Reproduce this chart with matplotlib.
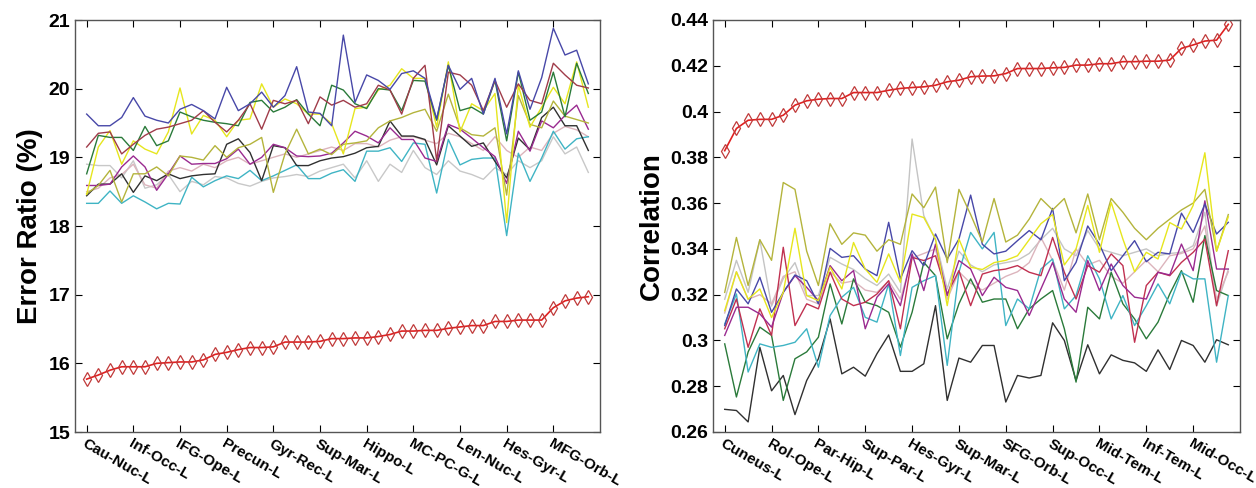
import matplotlib
matplotlib.use("Agg")
import matplotlib.pyplot as plt
import numpy as np

# x positions (1..44) and tick labels
n_regions = 44
left_labels = ['Cau-Nuc-L', 'Inf-Occ-L', 'IFG-Ope-L', 'Precun-L', 'Gyr-Rec-L', 'Sup-Mar-L',
               'Hippo-L', 'MC-PC-G-L', 'Len-Nuc-L', 'Hes-Gyr-L', 'MFG-Orb-L']
right_labels = ['Cuneus-L', 'Rol-Ope-L', 'Par-Hip-L', 'Sup-Par-L', 'Hes-Gyr-L', 'Sup-Mar-L',
                'SFG-Orb-L', 'Sup-Occ-L', 'Mid-Tem-L', 'Inf-Tem-L', 'Mid-Occ-L']

# ---- left panel: error ratio (%) ----
err_proposed = [15.77, 15.83, 15.9, 15.95, 15.95, 15.95, 16.0, 16.01, 16.02, 16.02, 16.05, 16.13,
                16.16, 16.2, 16.23, 16.23, 16.24, 16.31, 16.31, 16.31, 16.32, 16.36, 16.36, 16.37,
                16.37, 16.39, 16.42, 16.47, 16.47, 16.48, 16.48, 16.51, 16.53, 16.55, 16.55, 16.61,
                16.61, 16.63, 16.63, 16.63, 16.81, 16.91, 16.95, 16.97]
err_blue = [19.63, 19.46, 19.46, 19.58, 19.87, 19.6, 19.54, 19.5, 19.7, 19.77, 19.68, 19.56,
            20.02, 19.68, 19.78, 19.95, 19.73, 19.9, 20.32, 19.66, 19.64, 19.46, 20.78, 19.8,
            20.2, 20.12, 19.99, 20.22, 20.26, 20.15, 19.56, 20.34, 19.99, 20.15, 19.63, 20.15,
            19.34, 20.26, 19.7, 20.16, 20.88, 20.49, 20.56, 20.07]
err_brown = [19.15, 19.35, 19.37, 19.05, 19.19, 19.32, 19.41, 19.44, 19.49, 19.54, 19.68, 19.51,
             19.37, 19.54, 19.78, 19.41, 19.83, 19.78, 19.83, 19.49, 19.88, 19.76, 19.83, 19.73,
             19.78, 20.05, 19.98, 19.63, 20.15, 20.34, 18.95, 20.24, 20.2, 20.05, 19.68, 20.12,
             19.73, 20.07, 19.83, 19.78, 20.37, 20.2, 20.05, 20.01]
err_green = [18.76, 19.32, 19.29, 19.29, 19.1, 19.45, 19.17, 19.24, 19.66, 19.59, 19.54, 19.51,
             19.49, 19.46, 19.8, 19.83, 19.66, 19.73, 19.84, 19.63, 19.46, 20.05, 19.98, 19.78,
             19.71, 20.0, 19.98, 19.68, 20.12, 20.11, 19.54, 20.34, 19.68, 19.73, 19.63, 20.12,
             19.24, 20.24, 19.54, 19.66, 20.24, 19.59, 20.37, 19.93]
err_yellow = [18.46, 19.15, 19.39, 18.9, 19.24, 19.12, 19.05, 19.37, 20.01, 19.34, 19.61, 19.54,
              19.3, 19.54, 19.56, 20.07, 19.73, 19.85, 19.78, 19.63, 19.63, 19.49, 19.05, 19.71,
              19.73, 19.98, 20.05, 20.29, 20.15, 20.15, 19.44, 20.39, 19.37, 19.78, 19.68, 19.93,
              18.05, 20.05, 19.44, 19.73, 20.02, 19.78, 20.39, 19.73]
err_olive = [18.47, 18.59, 18.81, 18.35, 18.76, 18.76, 18.86, 18.73, 19.02, 19.0, 18.96, 19.17,
             19.0, 19.14, 19.19, 19.29, 18.49, 19.05, 19.41, 19.05, 19.12, 19.04, 19.19, 19.21,
             19.24, 19.43, 19.53, 19.58, 19.65, 19.7, 19.38, 19.92, 19.43, 19.33, 19.31, 19.43,
             18.45, 19.9, 19.48, 19.43, 19.82, 19.6, 19.55, 19.5]
err_magenta = [18.59, 18.59, 18.61, 18.86, 19.02, 18.86, 18.52, 18.76, 19.02, 18.9, 18.91, 18.91,
               18.98, 19.12, 18.9, 19.0, 19.19, 19.14, 19.02, 19.01, 19.02, 19.06, 19.21, 19.38,
               19.31, 19.21, 19.43, 19.26, 19.26, 18.99, 18.94, 19.48, 19.41, 19.28, 19.14, 19.01,
               18.62, 19.38, 19.09, 19.53, 19.43, 19.61, 19.76, 19.41]
err_black = [18.44, 18.61, 18.61, 18.76, 18.49, 18.73, 18.66, 18.76, 18.69, 18.73, 18.75, 18.76,
             19.19, 19.27, 19.07, 18.66, 19.17, 19.14, 18.88, 18.88, 18.95, 18.99, 19.01, 19.06,
             19.14, 19.16, 19.53, 19.31, 19.31, 19.26, 18.89, 19.46, 19.31, 19.16, 19.21, 18.94,
             18.7, 19.28, 19.11, 19.58, 19.73, 19.46, 19.46, 19.1]
err_cyan = [18.33, 18.33, 18.51, 18.33, 18.44, 18.35, 18.25, 18.33, 18.32, 18.71, 18.57, 18.66,
            18.73, 18.69, 18.81, 18.66, 18.73, 18.81, 18.89, 18.69, 18.69, 18.77, 18.82, 18.65,
            19.09, 19.09, 19.14, 18.94, 19.21, 19.19, 18.48, 19.26, 18.89, 18.97, 18.99, 18.99,
            17.86, 19.06, 18.65, 18.99, 19.38, 19.12, 19.27, 19.3]
err_gray = [18.9, 18.88, 18.88, 18.7, 18.95, 18.55, 18.6, 18.75, 18.5, 18.65, 18.6, 18.72,
            18.7, 18.62, 18.58, 18.65, 18.7, 18.72, 18.75, 18.72, 18.8, 18.85, 18.9, 18.7,
            18.95, 18.65, 18.9, 18.78, 19.1, 18.85, 18.75, 18.95, 18.8, 18.75, 18.68, 18.85,
            18.75, 18.95, 18.85, 18.95, 19.3, 19.05, 19.15, 18.78]
err_pink = [18.5, 18.55, 18.7, 18.75, 18.9, 18.6, 18.55, 18.8, 18.85, 18.8, 18.9, 18.85,
            18.95, 19.0, 18.9, 18.95, 19.0, 19.05, 19.0, 19.05, 19.1, 19.15, 19.1, 19.2,
            19.2, 19.15, 19.25, 19.3, 19.3, 19.25, 19.2, 19.35, 19.3, 19.2, 19.1, 19.3,
            19.1, 19.0, 19.15, 19.1, 19.35, 19.45, 19.4, 19.3]

# ---- right panel: correlation ----
cor_proposed = [0.3829, 0.3926, 0.3962, 0.3966, 0.3966, 0.3984, 0.4028, 0.4047, 0.4054, 0.4057,
                0.4057, 0.4083, 0.4083, 0.4083, 0.4093, 0.4101, 0.4105, 0.4108, 0.4115, 0.413,
                0.4137, 0.4152, 0.4155, 0.4156, 0.4166, 0.4188, 0.4188, 0.4188, 0.4191, 0.4193,
                0.4203, 0.4203, 0.4209, 0.4209, 0.4218, 0.4218, 0.422, 0.422, 0.4225, 0.4276,
                0.4291, 0.4308, 0.4312, 0.4381]
cor_olive = [0.321, 0.345, 0.324, 0.344, 0.335, 0.369, 0.366, 0.339, 0.324, 0.351, 0.342, 0.347,
             0.346, 0.339, 0.344, 0.342, 0.364, 0.358, 0.367, 0.334, 0.366, 0.355, 0.343, 0.362,
             0.343, 0.346, 0.353, 0.362, 0.357, 0.362, 0.347, 0.364, 0.344, 0.362, 0.356, 0.349,
             0.344, 0.349, 0.353, 0.357, 0.360, 0.366, 0.339, 0.355]
cor_yellow = [0.313, 0.330, 0.318, 0.3225, 0.310, 0.321, 0.349, 0.3196, 0.3174, 0.332, 0.3225,
              0.3428, 0.3312, 0.3254, 0.3378, 0.3254, 0.3552, 0.3537, 0.3443, 0.3152, 0.3443,
              0.332, 0.331, 0.334, 0.335, 0.337, 0.344, 0.351, 0.355, 0.333, 0.340, 0.359, 0.3385,
              0.3603, 0.3443, 0.330, 0.3385, 0.3356, 0.3515, 0.3487, 0.359, 0.382, 0.339, 0.354]
cor_gray = [0.318, 0.335, 0.321, 0.344, 0.315, 0.327, 0.334, 0.3196, 0.3196, 0.3363, 0.3334,
            0.331, 0.327, 0.324, 0.329, 0.321, 0.388, 0.3545, 0.344, 0.3225, 0.339, 0.333,
            0.330, 0.333, 0.334, 0.335, 0.338, 0.344, 0.349, 0.340, 0.337, 0.348, 0.340, 0.3385,
            0.337, 0.3385, 0.340, 0.337, 0.338, 0.3385, 0.3414, 0.356, 0.315, 0.331]
cor_pink = [0.312, 0.330, 0.318, 0.320, 0.316, 0.328, 0.330, 0.318, 0.316, 0.330, 0.325, 0.326,
            0.322, 0.321, 0.326, 0.318, 0.336, 0.338, 0.340, 0.318, 0.330, 0.325, 0.322, 0.325,
            0.328, 0.330, 0.334, 0.345, 0.335, 0.322, 0.340, 0.333, 0.335, 0.328, 0.325, 0.330,
            0.335, 0.330, 0.337, 0.338, 0.340, 0.350, 0.318, 0.330]
cor_blue = [0.3065, 0.3225, 0.316, 0.3276, 0.3123, 0.321, 0.3286, 0.3261, 0.316, 0.3402, 0.3363,
            0.337, 0.3312, 0.3283, 0.3516, 0.3269, 0.3392, 0.3327, 0.3465, 0.3356, 0.3443, 0.3635,
            0.342, 0.3378, 0.339, 0.3436, 0.348, 0.344, 0.3577, 0.3261, 0.3341, 0.350, 0.342,
            0.3305, 0.337, 0.3436, 0.3344, 0.3385, 0.3378, 0.3556, 0.3472, 0.3596, 0.3465, 0.3516]
cor_magenta = [0.3022, 0.3145, 0.3145, 0.3116, 0.3058, 0.321, 0.3283, 0.3232, 0.3174, 0.3327,
               0.3261, 0.3305, 0.3051, 0.3189, 0.3247, 0.3152, 0.3378, 0.3218, 0.3421, 0.3196,
               0.3349, 0.3312, 0.3196, 0.3276, 0.3232, 0.3218, 0.3109, 0.3225, 0.3341, 0.3181,
               0.3123, 0.3349, 0.3218, 0.3334, 0.324, 0.3189, 0.3181, 0.3298, 0.3286, 0.3421,
               0.3305, 0.361, 0.3312, 0.3312]
cor_crimson = [0.3051, 0.3181, 0.297, 0.3138, 0.3022, 0.3407, 0.3065, 0.316, 0.3138, 0.3298,
               0.3181, 0.3152, 0.3167, 0.3203, 0.3261, 0.3051, 0.3363, 0.3349, 0.337, 0.3203,
               0.3305, 0.3152, 0.329, 0.3305, 0.3312, 0.3327, 0.3298, 0.3283, 0.345, 0.3298,
               0.3181, 0.3327, 0.3298, 0.3378, 0.3327, 0.2992, 0.324, 0.3298, 0.3283, 0.3341,
               0.3385, 0.3443, 0.3152, 0.3392]
cor_cyan = [0.3072, 0.3203, 0.2862, 0.2985, 0.297, 0.2978, 0.2992, 0.3051, 0.2883, 0.3109,
            0.3189, 0.3232, 0.3101, 0.308, 0.3247, 0.2934, 0.3232, 0.3261, 0.3283, 0.2891,
            0.3298, 0.3472, 0.340, 0.3472, 0.3065, 0.3181, 0.3138, 0.3312, 0.3356, 0.3138,
            0.3196, 0.337, 0.3269, 0.3094, 0.3196, 0.3065, 0.3152, 0.3247, 0.316, 0.3298,
            0.3269, 0.3269, 0.2905, 0.3196]
cor_green = [0.2985, 0.2753, 0.295, 0.3058, 0.3022, 0.2738, 0.292, 0.295, 0.3014, 0.3247,
             0.3072, 0.3269, 0.3167, 0.3152, 0.3123, 0.2971, 0.3123, 0.3341, 0.3283, 0.3007,
             0.316, 0.3269, 0.3167, 0.3181, 0.3181, 0.3051, 0.3138, 0.3181, 0.3218, 0.3051,
             0.2818, 0.3145, 0.3094, 0.3298, 0.316, 0.3094, 0.3007, 0.308, 0.3203, 0.3305,
             0.3167, 0.3458, 0.3218, 0.3196]
cor_black = [0.2699, 0.2694, 0.2644, 0.297, 0.278, 0.2847, 0.2676, 0.2825, 0.292, 0.3094,
             0.2854, 0.2883, 0.2844, 0.2942, 0.3024, 0.2865, 0.2865, 0.2898, 0.3152, 0.2738,
             0.2923, 0.2905, 0.2978, 0.2978, 0.2731, 0.2847, 0.2836, 0.2847, 0.3077, 0.300,
             0.2825, 0.2981, 0.2854, 0.2937, 0.2913, 0.2902, 0.2865, 0.2959, 0.2873, 0.300,
             0.2978, 0.2905, 0.3003, 0.2981]

x = np.arange(1, n_regions + 1)
tick_pos = np.arange(1, n_regions + 1, 4)

plt.rcParams['font.family'] = ['Liberation Sans Narrow', 'Liberation Sans', 'DejaVu Sans']
plt.rcParams['font.weight'] = 'bold'

fig = plt.figure(figsize=(12.56, 4.88), dpi=100)
ax1 = fig.add_axes([75 / 1256, 56 / 488, 525 / 1256, 412 / 488])
ax2 = fig.add_axes([713 / 1256, 56 / 488, 527 / 1256, 412 / 488])

left_series = [(err_gray, '#c8c8c8'), (err_pink, '#dcb4bc'), (err_cyan, '#3fb4c4'),
               (err_black, '#303030'), (err_magenta, '#9a2a90'), (err_olive, '#b4b43c'),
               (err_yellow, '#e6e61e'), (err_green, '#2a7a3a'), (err_brown, '#a03c4a'),
               (err_blue, '#4848a8')]
right_series = [(cor_gray, '#c4c4c4'), (cor_pink, '#dcb4bc'), (cor_black, '#303030'),
                (cor_green, '#2a7a3a'), (cor_cyan, '#3fb4c4'), (cor_crimson, '#c03050'),
                (cor_magenta, '#9a2a90'), (cor_blue, '#4848a8'), (cor_olive, '#b4b43c'),
                (cor_yellow, '#e6e61e')]

for ax, series, proposed in [(ax1, left_series, err_proposed), (ax2, right_series, cor_proposed)]:
    for vals, col in series:
        ax.plot(x, vals, color=col, lw=1.0)
    ax.plot(x, proposed, color='#e02020', lw=1.2, marker='d', ms=7.5, mfc='none',
            mec='#c03a3a', mew=0.9)
    ax.set_xlim(0, 45)
    ax.set_xticks(tick_pos)
    ax.tick_params(direction='in', top=True, right=True, length=5, width=0.8,
                   labelsize=14)
    for s in ax.spines.values():
        s.set_color('#555555')
        s.set_linewidth(1.0)

ax1.set_ylim(15, 21)
ax1.set_yticks(range(15, 22))
ax1.set_xticklabels(left_labels, rotation=-30, ha='left', va='top',
                    rotation_mode='anchor', fontsize=11)
ax1.set_ylabel('Error Ratio (%)', fontsize=20, fontweight='bold', family=['Liberation Sans', 'DejaVu Sans'])

ax2.set_ylim(0.26, 0.44)
ax2.set_yticks([0.26, 0.28, 0.30, 0.32, 0.34, 0.36, 0.38, 0.40, 0.42, 0.44])
ax2.set_yticklabels(['0.26', '0.28', '0.3', '0.32', '0.34', '0.36', '0.38', '0.4', '0.42', '0.44'])
ax2.set_xticklabels(right_labels, rotation=-30, ha='left', va='top',
                    rotation_mode='anchor', fontsize=11)
ax2.set_ylabel('Correlation', fontsize=20, fontweight='bold', family=['Liberation Sans', 'DejaVu Sans'])

fig.savefig('out.png', dpi=100)
